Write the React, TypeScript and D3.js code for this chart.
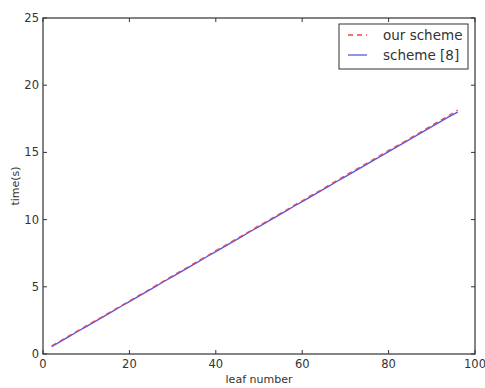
import React, { useEffect, useRef } from "react";
import * as d3 from "d3";

const leaves = [2, 4, 6, 8, 10, 12, 14, 16, 18, 20, 22, 24, 26, 28, 30, 32, 34, 36, 38, 40, 42, 44, 46, 48,
  50, 52, 54, 56, 58, 60, 62, 64, 66, 68, 70, 72, 74, 76, 78, 80, 82, 84, 86, 88, 90, 92, 94, 96];

const ourScheme = [0.62, 0.96, 1.36, 1.72, 2.1, 2.47, 2.82, 3.22, 3.58, 3.96, 4.33, 4.69, 5.08, 5.44, 5.83, 6.19,
  6.56, 6.95, 7.3, 7.7, 8.05, 8.42, 8.8, 9.17, 9.56, 9.91, 10.3, 10.65, 11.05, 11.41, 11.79, 12.15, 12.53,
  12.9, 13.3, 13.65, 14.03, 14.39, 14.77, 15.15, 15.52, 15.87, 16.26, 16.63, 17.01, 17.38, 17.76, 18.15];

const scheme8 = [0.55, 0.92, 1.29, 1.67, 2.04, 2.41, 2.78, 3.15, 3.53, 3.9, 4.27, 4.64, 5.01, 5.39, 5.76, 6.13,
  6.5, 6.87, 7.25, 7.62, 7.99, 8.36, 8.73, 9.11, 9.48, 9.85, 10.22, 10.59, 10.97, 11.34, 11.71, 12.08, 12.45,
  12.83, 13.2, 13.57, 13.94, 14.31, 14.69, 15.06, 15.43, 15.8, 16.17, 16.55, 16.92, 17.29, 17.66, 18.0];

const xTicks = [0, 20, 40, 60, 80, 100];
const yTicks = [0, 5, 10, 15, 20, 25];
const legendLabels = ["our scheme", "scheme [8]"];

function Chart() {
  const ref = useRef<SVGSVGElement>(null);

  useEffect(() => {
    const svg = d3.select(ref.current);
    svg.selectAll("*").remove();

    const margin = { top: 18, right: 10, bottom: 34, left: 43 };
    const width = 485, height = 388;
    const font = "DejaVu Sans, sans-serif";
    const ink = "#333";

    const x = d3.scaleLinear().domain([0, 100]).range([margin.left, width - margin.right]);
    const y = d3.scaleLinear().domain([0, 25]).range([height - margin.bottom, margin.top]);

    // ticks, inward on all four sides
    const g = svg.append("g");
    xTicks.forEach(t => {
      g.append("line").attr("x1", x(t)).attr("x2", x(t)).attr("y1", y(0)).attr("y2", y(0) - 4).attr("stroke", ink);
      g.append("line").attr("x1", x(t)).attr("x2", x(t)).attr("y1", y(25)).attr("y2", y(25) + 4).attr("stroke", ink);
      g.append("text").attr("x", x(t)).attr("y", y(0) + 14).attr("text-anchor", "middle")
        .attr("font-family", font).attr("font-size", 11.5).attr("fill", ink).text(t);
    });
    yTicks.forEach(t => {
      g.append("line").attr("x1", x(0)).attr("x2", x(0) + 4).attr("y1", y(t)).attr("y2", y(t)).attr("stroke", ink);
      g.append("line").attr("x1", x(100)).attr("x2", x(100) - 4).attr("y1", y(t)).attr("y2", y(t)).attr("stroke", ink);
      g.append("text").attr("x", x(0) - 4).attr("y", y(t)).attr("dy", "0.35em").attr("text-anchor", "end")
        .attr("font-family", font).attr("font-size", 11.5).attr("fill", ink).text(t);
    });

    const line = d3.line<number>().x((_, i) => x(leaves[i])).y(d => y(d));

    svg.append("path").datum(scheme8).attr("d", line).attr("fill", "none")
      .attr("stroke", "#5555e8").attr("stroke-width", 1.3);
    svg.append("path").datum(ourScheme).attr("d", line).attr("fill", "none")
      .attr("stroke", "#e84848").attr("stroke-width", 1.2).attr("stroke-dasharray", "5,4");

    // frame
    svg.append("rect").attr("x", x(0)).attr("y", y(25)).attr("width", x(100) - x(0)).attr("height", y(0) - y(25))
      .attr("fill", "none").attr("stroke", ink).attr("stroke-width", 1.2);

    // legend
    const lg = svg.append("g");
    lg.append("rect").attr("x", 339).attr("y", 24).attr("width", 129).attr("height", 45)
      .attr("fill", "white").attr("stroke", ink).attr("stroke-width", 1);
    const colors = ["#e84848", "#5555e8"];
    legendLabels.forEach((lab, i) => {
      const ly = 35 + i * 20;
      lg.append("line").attr("x1", 348).attr("x2", 367).attr("y1", ly).attr("y2", ly)
        .attr("stroke", colors[i]).attr("stroke-width", 1.3)
        .attr("stroke-dasharray", i === 0 ? "5,4" : null);
      lg.append("text").attr("x", 383).attr("y", ly).attr("dy", "0.35em")
        .attr("font-family", font).attr("font-size", 13.5).attr("fill", ink).text(lab);
    });

    // axis labels
    svg.append("text").attr("x", (x(0) + x(100)) / 2).attr("y", 383).attr("text-anchor", "middle")
      .attr("font-family", font).attr("font-size", 11).attr("fill", ink).text("leaf number");
    svg.append("text").attr("transform", `translate(15,${(y(0) + y(25)) / 2}) rotate(-90)`)
      .attr("text-anchor", "middle").attr("dy", "0.35em")
      .attr("font-family", font).attr("font-size", 11).attr("fill", ink).text("time(s)");
  }, []);

  return <svg ref={ref} width={485} height={388} style={{ display: "block", background: "white" }} />;
}

export default function App() {
  return (
    <div style={{ position: "fixed", left: 0, top: 0 }}>
      <Chart />
    </div>
  );
}
